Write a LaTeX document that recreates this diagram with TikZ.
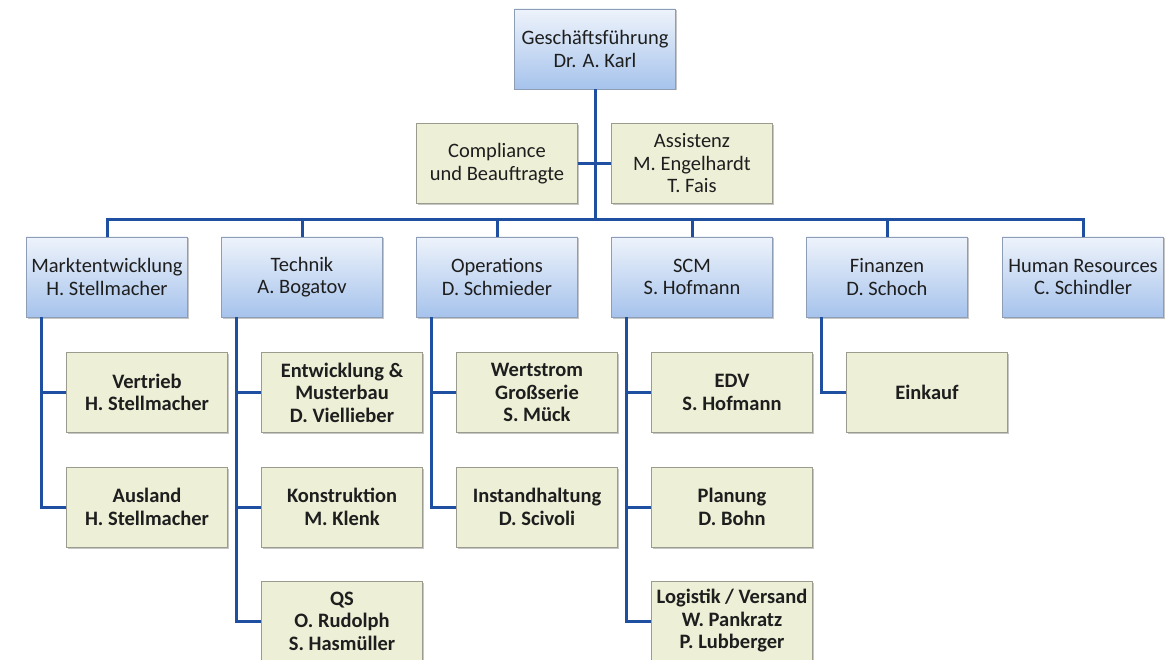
\documentclass[tikz,border=0pt]{standalone}
\usepackage{fontspec}
\setmainfont{Carlito}
\usetikzlibrary{positioning,shadows,calc}
\definecolor{linkblue}{HTML}{1F4FA0}
\definecolor{headtop}{HTML}{EEF3FB}
\definecolor{headbot}{HTML}{A6C3EC}
\definecolor{headline}{HTML}{8C9DB5}
\definecolor{unitfill}{HTML}{EDEFD6}
\definecolor{unitline}{HTML}{9C9C8E}
\definecolor{textdark}{HTML}{1E1E1E}
\begin{document}
\begin{tikzpicture}[x=1pt,y=-1pt,
      box/.style = {rectangle, minimum width=161pt, minimum height=80pt, inner sep=2pt,
        align=center, text=textdark, font=\fontsize{20.5}{22.5}\selectfont,
        drop shadow={shadow xshift=1.5pt, shadow yshift=-1.5pt, opacity=.45}},
      head/.style = {box, draw=headline, top color=headtop, bottom color=headbot},
      staff/.style = {box, draw=unitline, fill=unitfill},
      unit/.style = {staff, font=\fontsize{20.5}{22.5}\selectfont\bfseries},
      link/.style = {draw=linkblue, line width=3pt}
      ]
      \useasboundingbox (0,0) rectangle (1166,660);
      \clip (0,0) rectangle (1166,660);
      % top
      \node[head] (gf) at (595,49) {Geschäftsführung\\Dr. A. Karl};
      \node[staff] (comp) at (497,163.5) {Compliance\\und Beauftragte};
      \node[staff] (assist) at (692,163.5) {Assistenz\\M. Engelhardt\\T. Fais};
      \coordinate (bar) at (595,220);
      % departments
      \node[head] (mkt) at (107,277) {Marktentwicklung\\H. Stellmacher};
      \node[head] (tech) at (302,277) {Technik\\A. Bogatov};
      \node[head] (ops) at (497,277) {Operations\\D. Schmieder};
      \node[head] (scm) at (692,277) {SCM\\S. Hofmann};
      \node[head] (fin) at (887,277) {Finanzen\\D. Schoch};
      \node[head] (hr) at (1083,277) {Human Resources\\C. Schindler};
      % units
      \node[unit] (vert) at (147,392.5) {Vertrieb\\H. Stellmacher};
      \node[unit] (ausl) at (147,507) {Ausland\\H. Stellmacher};
      \node[unit] (entw) at (342,392.5) {Entwicklung \&\\Musterbau\\D. Viellieber};
      \node[unit] (konst) at (342,507) {Konstruktion\\M. Klenk};
      \node[unit] (qs) at (342,621) {QS\\O. Rudolph\\S. Hasmüller};
      \node[unit] (wert) at (537,392.5) {Wertstrom\\Großserie\\S. Mück};
      \node[unit] (inst) at (537,507) {Instandhaltung\\D. Scivoli};
      \node[unit] (edv) at (732,392.5) {EDV\\S. Hofmann};
      \node[unit] (plan) at (732,507) {Planung\\D. Bohn};
      \node[unit] (logi) at (732,621) {Logistik / Versand\\W. Pankratz\\P. Lubberger};
      \node[unit] (eink) at (927,392.5) {Einkauf};
      % connectors
      \draw[link] (gf.south) -- (bar);
      \draw[link] (comp.east) -- (assist.west);
      \foreach \d in {mkt,tech,ops,scm,fin,hr}
        \draw[link] (bar) -| (\d.north);
      \foreach \p/\c in {mkt/vert,mkt/ausl,tech/entw,tech/konst,tech/qs,ops/wert,ops/inst,scm/edv,scm/plan,scm/logi,fin/eink}
        \draw[link] ([xshift=15pt]\p.south west) |- (\c.west);
    \end{tikzpicture}
\end{document}
